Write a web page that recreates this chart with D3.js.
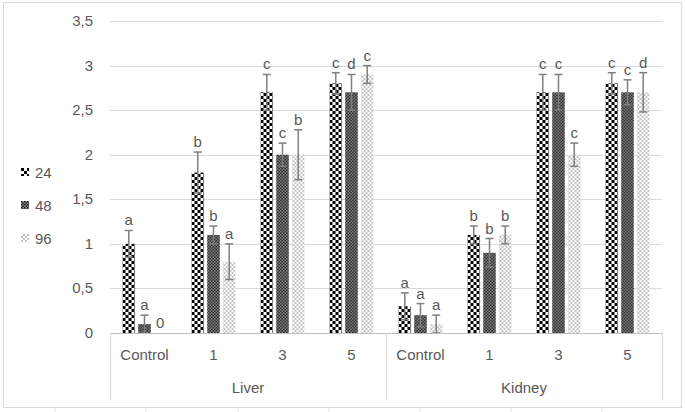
<!DOCTYPE html>
<html>
<head>
<meta charset="utf-8">
<script src="https://cdn.jsdelivr.net/npm/d3@7"></script>
<style>
  html, body { margin: 0; padding: 0; background: #fff; }
  svg text { font-family: "Liberation Sans", Arial, sans-serif; fill: #595959; }
</style>
</head>
<body>
<svg id="chart" width="685" height="412"></svg>
<script>
// 数据
const organs = ["Liver", "Kidney"];
const doses = ["Control", "1", "3", "5"];
const series = ["24", "48", "96"];
const yTicks = [0, 0.5, 1, 1.5, 2, 2.5, 3, 3.5];

const values24 = [1.0, 1.8, 2.7, 2.8, 0.3, 1.1, 2.7, 2.8];
const values48 = [0.1, 1.1, 2.0, 2.7, 0.2, 0.9, 2.7, 2.7];
const values96 = [0.0, 0.8, 2.0, 2.9, 0.1, 1.1, 2.0, 2.7];

const err24 = [0.15, 0.23, 0.2, 0.12, 0.15, 0.1, 0.2, 0.12];
const err48 = [0.1, 0.1, 0.13, 0.2, 0.13, 0.16, 0.2, 0.14];
const err96 = [0.0, 0.2, 0.28, 0.1, 0.1, 0.1, 0.13, 0.22];

const letters24 = ["a", "b", "c", "c", "a", "b", "c", "c"];
const letters48 = ["a", "b", "c", "d", "a", "b", "c", "c"];
const letters96 = ["0", "a", "b", "c", "a", "b", "c", "d"];

const svg = d3.select("#chart");

// 图案填充
const defs = svg.append("defs");
const p24 = defs.append("pattern").attr("id", "p24").attr("patternUnits", "userSpaceOnUse")
    .attr("width", 6).attr("height", 6);
p24.append("rect").attr("width", 6).attr("height", 6).attr("fill", "#fff");
p24.append("rect").attr("width", 3).attr("height", 3).attr("fill", "#000");
p24.append("rect").attr("x", 3).attr("y", 3).attr("width", 3).attr("height", 3).attr("fill", "#000");

const p48 = defs.append("pattern").attr("id", "p48").attr("patternUnits", "userSpaceOnUse")
    .attr("width", 3).attr("height", 3);
p48.append("rect").attr("width", 3).attr("height", 3).attr("fill", "#9a9a9a");
p48.append("rect").attr("width", 1.5).attr("height", 1.5).attr("fill", "#111");
p48.append("rect").attr("x", 1.5).attr("y", 1.5).attr("width", 1.5).attr("height", 1.5).attr("fill", "#111");

const p96 = defs.append("pattern").attr("id", "p96").attr("patternUnits", "userSpaceOnUse")
    .attr("width", 4).attr("height", 4);
p96.append("rect").attr("width", 4).attr("height", 4).attr("fill", "#fff");
p96.append("rect").attr("width", 2).attr("height", 2).attr("fill", "#c4c4c4");
p96.append("rect").attr("x", 2).attr("y", 2).attr("width", 2).attr("height", 2).attr("fill", "#c4c4c4");

const fills = { "24": "url(#p24)", "48": "url(#p48)", "96": "url(#p96)" };

// 外框 + 单元格线
[55, 146, 238, 329, 420, 511, 602].forEach(x => {
    svg.append("line").attr("x1", x).attr("x2", x).attr("y1", 407).attr("y2", 412)
        .attr("stroke", "#e3e3e3");
});
svg.append("rect").attr("x", 3.5).attr("y", 2.5).attr("width", 678).attr("height", 405)
    .attr("fill", "#fff").attr("stroke", "#d9d9d9");

// 比例尺
const keys = [];
organs.forEach(o => doses.forEach(d => keys.push(o + "|" + d)));

const x0 = d3.scaleBand().domain(keys).range([110, 662]).padding(0);
const x1 = d3.scaleBand().domain(series).range([0, 44]).paddingInner(0.2);
const y = d3.scaleLinear().domain([0, 3.5]).range([333, 21]);

const offset = (x0.bandwidth() - 44) / 2;

// 网格线
svg.append("g").selectAll("line").data(yTicks.filter(d => d > 0)).enter().append("line")
    .attr("x1", 110).attr("x2", 662)
    .attr("y1", d => Math.round(y(d)) + 0.5).attr("y2", d => Math.round(y(d)) + 0.5)
    .attr("stroke", "#d9d9d9");

// Y 轴标签
svg.append("g").selectAll("text").data(yTicks).enter().append("text")
    .attr("x", 93).attr("y", d => y(d) + 5)
    .attr("text-anchor", "end").style("font-size", "15px")
    .text(d => String(d).replace(".", ","));

// 数据整理
const table = keys.map((k, i) => ({
    key: k,
    items: [
        { s: "24", v: values24[i], e: err24[i], l: letters24[i] },
        { s: "48", v: values48[i], e: err48[i], l: letters48[i] },
        { s: "96", v: values96[i], e: err96[i], l: letters96[i] }
    ]
}));

const groupsG = svg.append("g").selectAll("g").data(table).enter().append("g")
    .attr("transform", d => `translate(${x0(d.key) + offset},0)`);

// 柱
groupsG.selectAll("rect").data(d => d.items).enter().append("rect")
    .attr("x", d => x1(d.s))
    .attr("y", d => y(d.v))
    .attr("width", x1.bandwidth())
    .attr("height", d => y(0) - y(d.v))
    .attr("fill", d => fills[d.s]);

// 误差线
const errG = groupsG.selectAll(".err").data(d => d.items.filter(it => it.e > 0)).enter()
    .append("g").attr("class", "err")
    .attr("stroke", "#7f7f7f").attr("stroke-width", 1.5);
const cx = d => x1(d.s) + x1.bandwidth() / 2;
errG.append("line")
    .attr("x1", cx).attr("x2", cx)
    .attr("y1", d => y(d.v + d.e)).attr("y2", d => y(Math.max(0, d.v - d.e)));
errG.append("line")
    .attr("x1", d => cx(d) - 4).attr("x2", d => cx(d) + 4)
    .attr("y1", d => y(d.v + d.e)).attr("y2", d => y(d.v + d.e));
errG.append("line")
    .attr("x1", d => cx(d) - 4).attr("x2", d => cx(d) + 4)
    .attr("y1", d => y(Math.max(0, d.v - d.e))).attr("y2", d => y(Math.max(0, d.v - d.e)));

// 字母标注
groupsG.selectAll(".lbl").data(d => d.items).enter().append("text")
    .attr("class", "lbl")
    .attr("x", cx)
    .attr("y", d => y(d.v + d.e) - 5)
    .attr("text-anchor", "middle").style("font-size", "15px")
    .text(d => d.l);

// 分类轴
const axisG = svg.append("g").attr("stroke", "#d9d9d9");
axisG.append("line").attr("x1", 110).attr("x2", 662).attr("y1", 333.5).attr("y2", 333.5)
    .attr("stroke", "#bfbfbf");
[x0(keys[0]), x0(keys[4]), x0(keys[7]) + x0.bandwidth()].forEach(xv => {
    axisG.append("line").attr("x1", Math.round(xv) + 0.5).attr("x2", Math.round(xv) + 0.5)
        .attr("y1", 333).attr("y2", 400);
});

svg.append("g").selectAll("text").data(keys).enter().append("text")
    .attr("x", d => x0(d) + x0.bandwidth() / 2)
    .attr("y", 360)
    .attr("text-anchor", "middle").style("font-size", "15px")
    .text(d => d.split("|")[1]);

svg.append("g").selectAll("text").data(organs).enter().append("text")
    .attr("x", (d, i) => x0(keys[i * 4]) + x0.bandwidth() * 2)
    .attr("y", 393)
    .attr("text-anchor", "middle").style("font-size", "15px")
    .text(d => d);

// 图例
const legend = svg.append("g").attr("transform", "translate(21,0)");
series.forEach((s, i) => {
    const ly = 172 + i * 33;
    legend.append("rect").attr("x", 0).attr("y", ly - 4).attr("width", 8).attr("height", 8)
        .attr("fill", fills[s]);
    legend.append("text").attr("x", 14).attr("y", ly + 5.5).style("font-size", "15px").text(s);
});
</script>
</body>
</html>
